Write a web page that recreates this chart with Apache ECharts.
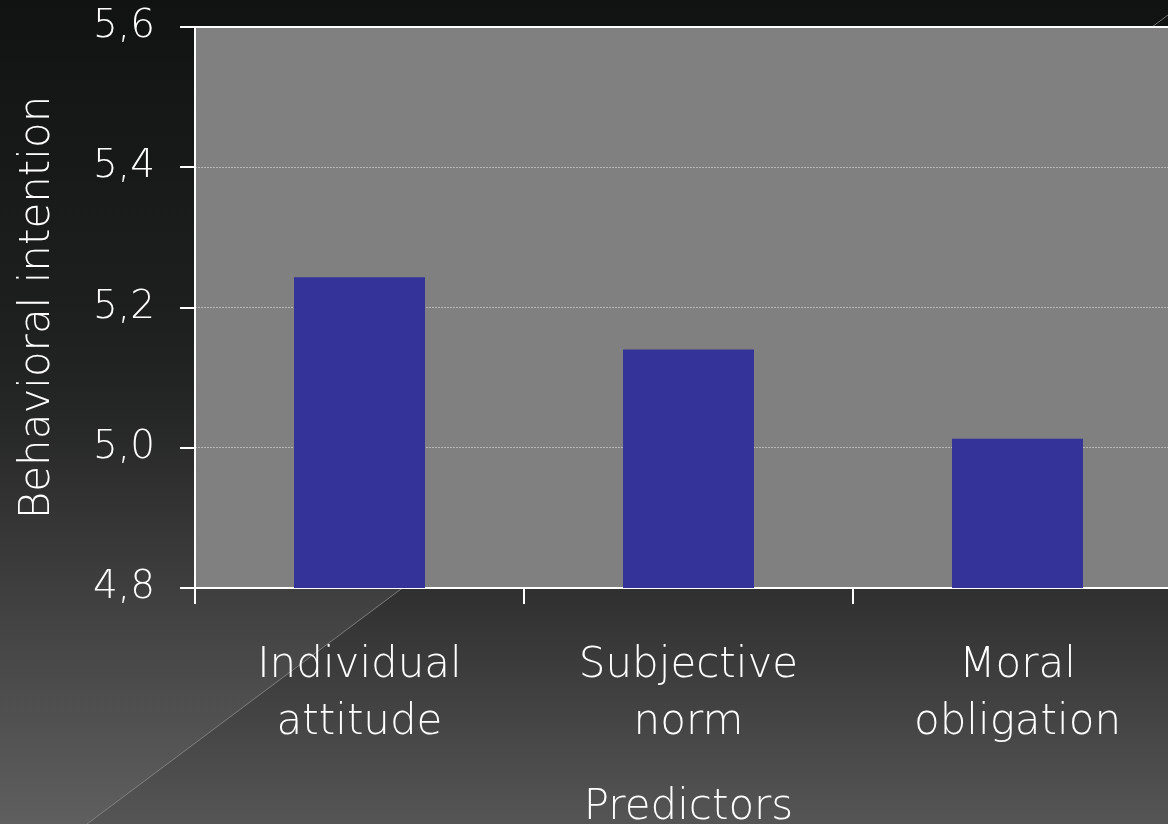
<!DOCTYPE html>
<html>
<head>
<meta charset="utf-8">
<style>
  html, body { margin: 0; padding: 0; background: #111; }
  #chart { width: 1168px; height: 824px; }
</style>
<script src="https://cdn.jsdelivr.net/npm/echarts@6/dist/echarts.min.js"></script>
</head>
<body>
<div id="chart"></div>
<script>
// predictors on the x axis
const categories = ['Individual\nattitude', 'Subjective\nnorm', 'Moral\nobligation'];
// mean behavioral intention per predictor
const intention = [5.243, 5.14, 5.013];
// y axis range / ticks
const yMin = 4.8;
const yMax = 5.6;
const yStep = 0.2;

const chart = echarts.init(document.getElementById('chart'));
const font = '"DejaVu Sans", sans-serif';
const weight = 200;

chart.setOption({
  backgroundColor: {
    type: 'linear', x: 0, y: 0, x2: 0, y2: 1,
    colorStops: [
      { offset: 0, color: '#111212' },
      { offset: 0.5, color: '#1e1f1f' },
      { offset: 0.72, color: '#303030' },
      { offset: 1, color: '#555555' }
    ]
  },
  // lighter panel left of the diagonal stroke, black corner right of it
  graphic: [
    {
      type: 'polygon',
      silent: true,
      z: -10,
      shape: { points: [[0, 824], [87, 824], [1168, 15], [1168, 0], [0, 0]] },
      style: {
        fill: {
          type: 'linear', x: 0, y: 0, x2: 0, y2: 1,
          colorStops: [
            { offset: 0, color: 'rgba(255,255,255,0)' },
            { offset: 0.4, color: 'rgba(255,255,255,0.01)' },
            { offset: 0.73, color: 'rgba(255,255,255,0.075)' },
            { offset: 1, color: 'rgba(255,255,255,0.06)' }
          ]
        }
      }
    },
    {
      type: 'line',
      silent: true,
      z: -9,
      shape: { x1: 87, y1: 824, x2: 1168, y2: 15 },
      style: { stroke: 'rgba(140,140,140,0.8)', lineWidth: 1 }
    },
    {
      type: 'polygon',
      silent: true,
      z: -9,
      shape: { points: [[1168, 15], [1168, 0], [1188, 0]] },
      style: { fill: '#000' }
    }
  ],
  grid: {
    left: 195,
    top: 27,
    width: 987,
    height: 561,
    outerBoundsMode: 'none',
    containLabel: false,
    show: true,
    backgroundColor: '#808080',
    borderWidth: 0
  },
  xAxis: [
    {
      type: 'category',
      data: categories,
      name: 'Predictors',
      nameLocation: 'middle',
      nameGap: 199,
      nameTextStyle: { color: '#fff', fontSize: 42, fontFamily: font, fontWeight: weight },
      axisLine: { lineStyle: { color: '#fff', width: 2 } },
      axisTick: { show: true, length: 16, lineStyle: { color: '#fff', width: 2 } },
      axisLabel: {
        color: '#fff',
        fontSize: 42,
        fontFamily: font,
        fontWeight: weight,
        lineHeight: 57,
        margin: 50,
        interval: 0
      }
    },
    {
      type: 'category',
      data: categories,
      position: 'top',
      axisLine: { lineStyle: { color: '#fff', width: 2 } },
      axisTick: { show: false },
      axisLabel: { show: false }
    }
  ],
  yAxis: {
    type: 'value',
    min: yMin,
    max: yMax,
    interval: yStep,
    name: 'Behavioral intention',
    nameLocation: 'middle',
    nameGap: 136,
    nameTextStyle: { color: '#fff', fontSize: 42, fontFamily: font, fontWeight: weight },
    axisLine: { show: true, lineStyle: { color: '#fff', width: 2 } },
    axisTick: { show: true, length: 15, lineStyle: { color: '#fff', width: 2 } },
    axisLabel: {
      color: '#fff',
      fontSize: 39,
      fontFamily: font,
      fontWeight: weight,
      margin: 40,
      padding: [4, 0, 0, 0],
      formatter: v => v.toFixed(1).replace('.', ',')
    },
    splitLine: {
      show: true,
      lineStyle: { color: '#b8b8b8', width: 1, type: [2, 1] }
    }
  },
  series: [
    {
      type: 'bar',
      data: intention,
      barWidth: 131,
      itemStyle: { color: '#333399' },
      silent: true
    }
  ]
});
</script>
</body>
</html>
